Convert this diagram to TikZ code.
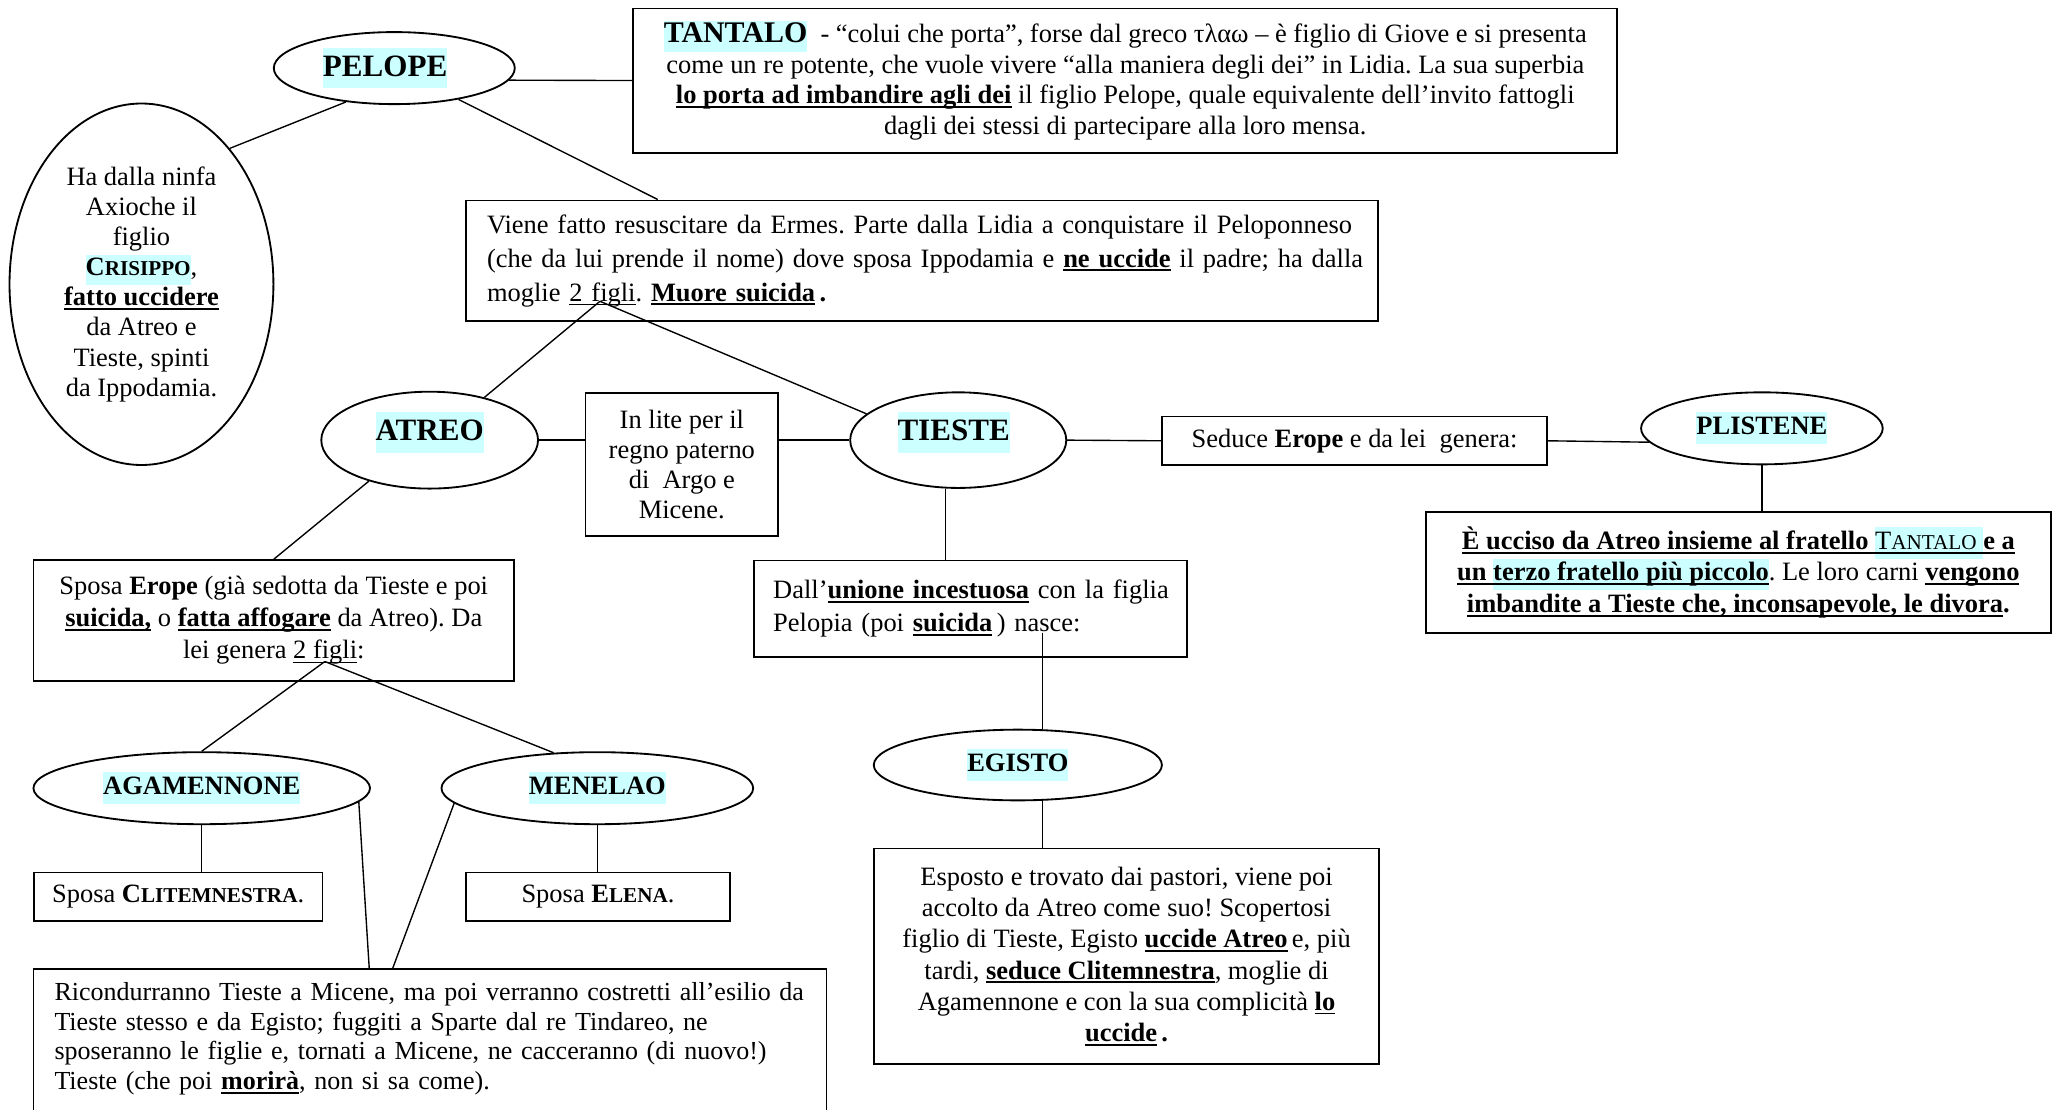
\documentclass[tikz,border=0pt]{standalone}
\usepackage{fontspec}
\setmainfont{Liberation Serif}
\usepackage{tikz}
\usetikzlibrary{shapes.geometric}
\definecolor{hlcyan}{RGB}{204,255,255}
\frenchspacing
\newsavebox{\sottbox}
\newcommand{\sott}[2][0.5pt]{\sbox{\sottbox}{#2}\rlap{\rule[-1.8pt]{\wd\sottbox}{#1}}\usebox{\sottbox}}
\newcommand{\hl}[1]{{\setlength{\fboxsep}{0pt}\colorbox{hlcyan}{\strut#1}}}
\newcommand{\ub}[1]{\textbf{\sott[0.8pt]{#1}}}
\newcommand{\pcaps}[2]{#1{\fontsize{9.2}{11}\selectfont #2}}
\newcommand{\alza}[2]{\raisebox{#1}[\height][\depth]{#2}}

\begin{document}
\begin{tikzpicture}[x=0.02cm,y=-0.02cm,
    ovale/.style={draw,ellipse,line width=0.8pt,inner sep=0pt,align=center},
    pers/.style={ovale,font=\fontsize{11.5}{14}\selectfont\bfseries},
    capo/.style={ovale,font=\fontsize{13.5}{17.6}\selectfont\bfseries},
    nota/.style={draw,rectangle,line width=0.8pt,inner sep=0pt,align=center,font=\fontsize{11.5}{13.4}\selectfont},
    link/.style={line width=0.6pt}]
  \path[use as bounding box,fill=white] (0,0) rectangle (1568,847);

  \node[capo,minimum width=3.68cm,minimum height=1.1cm] (pelope) at (301,52) {\hl{PELOPE}\hspace{0.28cm}};
  \node[ovale,minimum width=4.03cm,minimum height=5.52cm,font=\fontsize{11.5}{13.1}\selectfont] (crisippo) at (108,217)
    {Ha dalla ninfa\\Axioche il\\figlio\\\hl{\textbf{\pcaps{C}{RISIPPO}}},\\\ub{fatto uccidere}\\da Atreo e\\Tieste, spinti\\da Ippodamia.};
  \node[nota,minimum width=15.03cm,minimum height=2.2cm,font=\fontsize{11.5}{13.3}\selectfont] (tantalo) at (859,61.5)
    {\hl{\fontsize{13}{15}\selectfont\bfseries TANTALO}\ \ - “colui che porta”, forse dal greco τλαω – è figlio di Giove e si presenta\\
     come un re potente, che vuole vivere “alla maniera degli dei” in Lidia. La sua superbia\\
     \ub{lo porta ad imbandire agli dei} il figlio Pelope, quale equivalente dell’invito fattogli\\
     dagli dei stessi di partecipare alla loro mensa.};
  \node[nota,align=left,text width=13.29cm,inner xsep=0.32cm,minimum height=1.84cm,font=\fontsize{11.5}{14.8}\selectfont] (viene) at (704,199)
    {\mbox{Viene fatto resuscitare da Ermes. Parte dalla Lidia a conquistare il Peloponneso}\\
     \mbox{(che da lui prende il nome) dove sposa Ippodamia e \ub{ne uccide} il padre; ha dalla}\\
     \mbox{moglie \sott{2 figli}. \ub{Muore suicida}\,\textbf{.}}};

  \node[capo,minimum width=3.31cm,minimum height=1.48cm] (atreo) at (328,336) {\alza{0.12cm}{\hl{ATREO}}};
  \node[nota,minimum width=2.94cm,minimum height=2.19cm,font=\fontsize{11.5}{13}\selectfont] (lite) at (520.5,354.5)
    {In lite per il\\regno paterno\\di\ \ Argo e\\Micene.};
  \node[capo,minimum width=3.3cm,minimum height=1.46cm] (tieste) at (731.5,336) {\alza{0.12cm}{\hl{TIESTE}}\hspace{0.14cm}};
  \node[nota,minimum width=5.87cm,minimum height=0.74cm] (seduce) at (1034,336.5) {Seduce \textbf{Erope} e da lei\ \ genera:};
  \node[pers,minimum width=3.69cm,minimum height=1.1cm] (plistene) at (1345,327) {\hl{PLISTENE}};
  \node[nota,minimum width=9.54cm,minimum height=1.84cm,font=\fontsize{11.5}{13.7}\selectfont] (plistbox) at (1327,437)
    {\ub{È ucciso da Atreo insieme al fratello }\hl{\sott[0.8pt]{\pcaps{T}{ANTALO} }}\ub{e a}\\
     \ub{un }\hl{\ub{terzo fratello più piccolo}}. Le loro carni \ub{vengono}\\
     \ub{imbandite a Tieste che, inconsapevole, le divora}\textbf{.}};

  \node[nota,align=left,text width=6.03cm,inner xsep=0.29cm,minimum height=1.47cm,font=\fontsize{11.5}{14.2}\selectfont] (dall) at (741,464.6)
    {\mbox{Dall’\ub{unione incestuosa} con la figlia}\\
     \mbox{Pelopia (poi \ub{suicida}\,) nasce:}};
  \node[pers,minimum width=4.4cm,minimum height=1.08cm] (egisto) at (777,584) {\hl{EGISTO}};
  \node[nota,minimum width=7.71cm,minimum height=3.29cm,font=\fontsize{11.5}{13.6}\selectfont] (esposto) at (860,730)
    {Esposto e trovato dai pastori, viene poi\\
     accolto da Atreo come suo! Scopertosi\\
     figlio di Tieste, Egisto \ub{uccide Atreo}\,e, più\\
     tardi, \ub{seduce Clitemnestra}, moglie di\\
     Agamennone e con la sua complicità \ub{lo}\\
     \ub{uccide}\,\textbf{.}};

  \node[nota,minimum width=7.34cm,minimum height=1.84cm,font=\fontsize{11.5}{13.9}\selectfont] (erope) at (209,473.6)
    {Sposa \textbf{Erope} (già sedotta da Tieste e poi\\
     \ub{suicida,} o \ub{fatta affogare} da Atreo). Da\\
     lei genera \sott{2 figli}:};
  \node[pers,minimum width=5.14cm,minimum height=1.1cm] (agam) at (154,601.7) {\hl{AGAMENNONE}};
  \node[pers,minimum width=4.76cm,minimum height=1.1cm] (menelao) at (456,601.7) {\hl{MENELAO}};
  \node[nota,minimum width=4.41cm,minimum height=0.74cm] (clit) at (136,684.5) {Sposa \textbf{\pcaps{C}{LITEMNESTRA}}.};
  \node[nota,minimum width=4.03cm,minimum height=0.74cm] (elena) at (456.5,684.5) {Sposa \textbf{\pcaps{E}{LENA}}.};
  \node[nota,anchor=north,align=left,text width=11.47cm,inner xsep=0.32cm,inner ysep=0.2cm,text depth=3cm,font=\fontsize{11.3}{13}\selectfont] (ricond) at (328.3,739)
    {\mbox{Ricondurranno Tieste a Micene, ma poi verranno costretti all’esilio da}\\
     \mbox{Tieste stesso e da Egisto; fuggiti a Sparte dal re Tindareo, ne}\\
     \mbox{sposeranno le figlie e, tornati a Micene, ne cacceranno (di nuovo!)}\\
     \mbox{Tieste (che poi \ub{morirà}, non si sa come).}};

  \coordinate (figli1) at (458,230);
  \coordinate (figli2) at (248,505);
  \coordinate (nasce) at (795.6,483);
  \coordinate (piede) at ([xshift=-0.19cm]tieste.south);

  \draw[link] (pelope.-6) -- (tantalo.west);
  \draw[link] (pelope.215) -- (crisippo.57);
  \draw[link] (pelope.-26) -- ([xshift=2.94cm]viene.north west);
  \draw[link] (figli1) -- (atreo.38);
  \draw[link] (figli1) -- (tieste.164);
  \draw[link] (atreo.east) -- (atreo.east -| lite.west);
  \draw[link] (tieste.west -| lite.east) -- (tieste.west);
  \draw[link] (tieste.east) -- (seduce.west);
  \draw[link] (seduce.east) -- (plistene.187);
  \draw[link] (plistene.south) -- (plistene.south |- plistbox.north);
  \draw[link] (piede) -- (piede |- dall.north);
  \draw[link] (nasce) -- (nasce |- egisto.north);
  \draw[link] (nasce |- egisto.south) -- (nasce |- esposto.north);
  \draw[link] (atreo.214) -- (erope.north);
  \draw[link] (figli2) -- (agam.north);
  \draw[link] (figli2) -- (menelao.141);
  \draw[link] (agam.south) -- (agam.south |- clit.north);
  \draw[link] (menelao.south) -- (menelao.south |- elena.north);
  \draw[link] (agam.-5) -- ([xshift=5.14cm]ricond.north west);
  \draw[link] (menelao.186) -- ([xshift=5.5cm]ricond.north west);
\end{tikzpicture}
\end{document}
